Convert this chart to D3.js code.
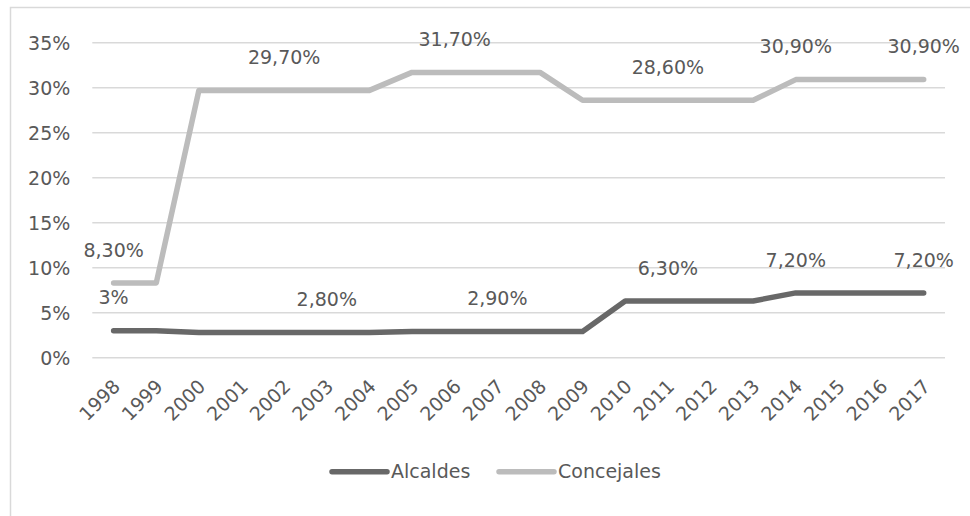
<!DOCTYPE html>
<html>
<head>
<meta charset="utf-8">
<script src="https://cdn.jsdelivr.net/npm/d3@7"></script>
<style>
  html, body { margin: 0; padding: 0; background: #fff; }
  svg { display: block; font-family: "DejaVu Sans", sans-serif; }
</style>
</head>
<body>
<svg id="chart" width="970" height="516"></svg>
<script>
const years = ["1998","1999","2000","2001","2002","2003","2004","2005","2006","2007",
               "2008","2009","2010","2011","2012","2013","2014","2015","2016","2017"];
const alcaldes   = [3, 3, 2.8, 2.8, 2.8, 2.8, 2.8, 2.9, 2.9, 2.9, 2.9, 2.9, 6.3, 6.3, 6.3, 6.3, 7.2, 7.2, 7.2, 7.2];
const concejales = [8.3, 8.3, 29.7, 29.7, 29.7, 29.7, 29.7, 31.7, 31.7, 31.7, 31.7, 28.6, 28.6, 28.6, 28.6, 28.6, 30.9, 30.9, 30.9, 30.9];
const alcaldesLabelIdx   = [0, 5, 9, 13, 16, 19];
const concejalesLabelIdx = [0, 4, 8, 13, 16, 19];
const yTicks = [0, 5, 10, 15, 20, 25, 30, 35];
const seriesNames = ["Alcaldes", "Concejales"];

const svg = d3.select("#chart");
const textColor = "#595959";
const fontSize = "19px";
const colors = { Alcaldes: "#686868", Concejales: "#bcbcbc" };

// chart border (only left/top visible in crop)
svg.append("rect").attr("x", 10.5).attr("y", 7.5).attr("width", 1000).attr("height", 600)
  .attr("fill", "none").attr("stroke", "#d9d9d9").attr("stroke-width", 1.5);

const pLeft = 92.3, pRight = 945, pTop = 42.7, pBottom = 357.7;
const x = d3.scaleBand().domain(years).range([pLeft, pRight]);
const xc = d => x(d) + x.bandwidth() / 2;
const y = d3.scaleLinear().domain([0, 35]).range([pBottom, pTop]);

// gridlines
svg.append("g").selectAll("line").data(yTicks).join("line")
  .attr("x1", pLeft).attr("x2", pRight)
  .attr("y1", d => y(d)).attr("y2", d => y(d))
  .attr("stroke", "#d9d9d9").attr("stroke-width", 1.5);

// y axis labels
const yAxis = d3.axisLeft(y).tickValues(yTicks).tickSize(0).tickPadding(0)
  .tickFormat(d => d + "%");
const gy = svg.append("g").attr("transform", `translate(${pLeft - 22},0)`).call(yAxis);
gy.select(".domain").remove();
gy.selectAll("text").attr("fill", textColor).style("font-size", fontSize)
  .style("font-family", "'DejaVu Sans', sans-serif").attr("dy", "0.35em");

// x axis labels
const gx = svg.append("g");
gx.selectAll("text").data(years).join("text")
  .attr("transform", d => `translate(${xc(d) + 3},${383}) rotate(-45)`)
  .attr("text-anchor", "end").attr("dy", "0.35em")
  .attr("fill", textColor).style("font-size", fontSize)
  .text(d => d);

// lines
const line = d3.line().x((d, i) => xc(years[i])).y(d => y(d));
[["Concejales", concejales], ["Alcaldes", alcaldes]].forEach(([name, vals]) => {
  svg.append("path").datum(vals).attr("d", line)
    .attr("fill", "none").attr("stroke", colors[name]).attr("stroke-width", 5.5)
    .attr("stroke-linecap", "round").attr("stroke-linejoin", "round");
});

// data labels
const fmt = v => (Number.isInteger(v) ? String(v) : v.toFixed(2).replace(".", ",")) + "%";
function labels(vals, idx) {
  svg.append("g").selectAll("text").data(idx).join("text")
    .attr("x", i => xc(years[i])).attr("y", i => y(vals[i]) - 33)
    .attr("dy", "0.35em").attr("text-anchor", "middle")
    .attr("fill", textColor).style("font-size", fontSize)
    .text(i => fmt(vals[i]));
}
labels(concejales, concejalesLabelIdx);
labels(alcaldes, alcaldesLabelIdx);

// legend
const legendItems = [{ name: "Alcaldes", x: 332 }, { name: "Concejales", x: 499 }];
const lg = svg.append("g");
legendItems.forEach(it => {
  lg.append("line").attr("x1", it.x).attr("x2", it.x + 55).attr("y1", 471.7).attr("y2", 471.7)
    .attr("stroke", colors[it.name]).attr("stroke-width", 5.5).attr("stroke-linecap", "round");
  lg.append("text").attr("x", it.x + 59).attr("y", 471.7).attr("dy", "0.35em")
    .attr("fill", textColor).style("font-size", fontSize).text(it.name);
});
</script>
</body>
</html>
